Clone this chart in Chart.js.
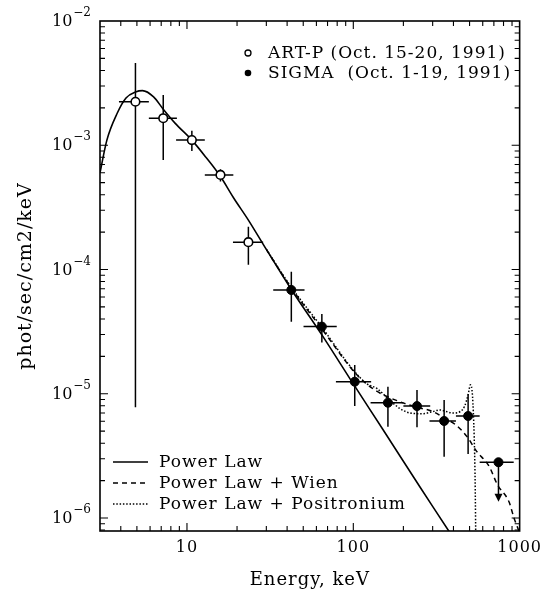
<!DOCTYPE html>
<html><head><meta charset="utf-8">
<script src="https://cdn.jsdelivr.net/npm/chart.js@4"></script>
<style>html,body{margin:0;padding:0;background:#fff}</style>
</head><body>
<canvas id="c" width="547" height="594"></canvas>
<script>
// ---------- DATA ----------
const xTickValues = [10, 100, 1000];
const xTickLabels = ['10', '100', '1000'];
const yTickValues = [1e-6, 1e-5, 1e-4, 1e-3, 1e-2];

// ART-P (open circles)
const artE   = [4.9, 7.2, 10.7, 15.9, 23.4];
const artF   = [2.24e-3, 1.65e-3, 1.10e-3, 5.77e-4, 1.66e-4];
const artElo = [3.9, 5.9, 8.6, 12.8, 18.9];
const artEhi = [5.9, 8.7, 12.8, 19.0, 28.7];
const artFlo = [7.8e-6, 7.6e-4, 9.0e-4, 5.1e-4, 1.09e-4];
const artFhi = [4.6e-3, 2.54e-3, 1.31e-3, 6.4e-4, 2.21e-4];

// SIGMA (filled circles)
const sigE   = [42.4, 64.7, 102, 161.5, 241.5, 351.6, 490];
const sigF   = [6.84e-5, 3.47e-5, 1.25e-5, 8.47e-6, 7.96e-6, 6.04e-6, 6.62e-6];
const sigElo = [33, 50.2, 78.6, 127, 200, 287, 414];
const sigEhi = [50.9, 79.5, 128, 200, 290, 414, 575];
const sigFlo = [3.8e-5, 2.58e-5, 7.97e-6, 5.43e-6, 5.37e-6, 3.11e-6, 3.27e-6];
const sigFhi = [9.6e-5, 4.38e-5, 1.70e-5, 1.14e-5, 1.07e-5, 8.9e-6, 9.9e-6];

// SIGMA upper limit
const ulE = [746];
const ulF = [2.81e-6];
const ulElo = [575];
const ulEhi = [921];
const ulTip = [1.35e-6];

// Model curves
const plE = [3, 3.3, 3.8, 4.3, 4.9, 5.4, 6.3, 7.2, 8.5, 10.7, 13, 15.9, 19, 23.4, 30, 42.4, 65, 100, 150, 250, 374, 420];
const plF = [6.0e-4, 1.1e-3, 1.8e-3, 2.4e-3, 2.68e-3, 2.75e-3, 2.45e-3, 1.95e-3, 1.5e-3, 1.1e-3, 8.0e-4, 5.6e-4, 3.8e-4, 2.5e-4, 1.45e-4, 6.9e-5, 2.95e-5, 1.2e-5, 5.2e-6, 1.8e-6, 7.9e-7, 6.2e-7];

const wienE = [30, 42.4, 65, 105, 135, 183, 241, 300, 351, 414, 490, 546, 656, 736, 863, 925, 1000];
const wienF = [1.45e-4, 7.1e-5, 3.3e-5, 1.42e-5, 1.07e-5, 8.8e-6, 7.8e-6, 7.2e-6, 6.4e-6, 5.6e-6, 4.4e-6, 3.5e-6, 2.6e-6, 1.85e-6, 1.35e-6, 1.0e-6, 7.6e-7];

const posE = [30, 42.4, 65, 100, 121, 139, 165, 191, 219, 260, 302, 330, 397, 440, 466, 490, 506, 521, 533, 540, 546];
const posF = [1.45e-4, 7.2e-5, 3.4e-5, 1.55e-5, 1.2e-5, 1.1e-5, 8.9e-6, 7.6e-6, 7.0e-6, 6.9e-6, 7.2e-6, 7.4e-6, 7.0e-6, 7.2e-6, 7.9e-6, 9.8e-6, 1.18e-5, 9.5e-6, 4.5e-6, 2.0e-6, 5.0e-7];

const legendTop = ['ART-P (Oct. 15-20, 1991)', 'SIGMA  (Oct. 1-19, 1991)'];
const legendBottom = ['Power Law', 'Power Law + Wien', 'Power Law + Positronium'];
const minorMultipliers = [1, 2, 3, 4, 5, 6, 7, 8, 9];

// ---------- STYLE ----------
const FONT = 'DejaVu Serif';
const pts = (xs, ys) => xs.map((v, i) => ({x: v, y: ys[i]}));

const decor = {
  id: 'decor',
  beforeDraw(chart) { chart.ctx.letterSpacing = '1px'; },
  beforeDatasetsDraw(chart) {
    const {ctx, scales: {x, y}} = chart;
    ctx.save();
    ctx.strokeStyle = '#000';
    ctx.fillStyle = '#000';
    ctx.lineWidth = 1.5;
    const bars = (E, F, elo, ehi, flo, fhi) => {
      for (let i = 0; i < E.length; i++) {
        const px = x.getPixelForValue(E[i]), py = y.getPixelForValue(F[i]);
        ctx.beginPath();
        ctx.moveTo(x.getPixelForValue(elo[i]), py);
        ctx.lineTo(x.getPixelForValue(ehi[i]), py);
        ctx.moveTo(px, y.getPixelForValue(fhi[i]));
        ctx.lineTo(px, y.getPixelForValue(flo[i]));
        ctx.stroke();
      }
    };
    bars(artE, artF, artElo, artEhi, artFlo, artFhi);
    bars(sigE, sigF, sigElo, sigEhi, sigFlo, sigFhi);
    for (let i = 0; i < ulE.length; i++) {
      const px = x.getPixelForValue(ulE[i]), py = y.getPixelForValue(ulF[i]);
      const ty = y.getPixelForValue(ulTip[i]);
      ctx.beginPath();
      ctx.moveTo(x.getPixelForValue(ulElo[i]), py);
      ctx.lineTo(x.getPixelForValue(ulEhi[i]), py);
      ctx.moveTo(px, py);
      ctx.lineTo(px, ty - 6);
      ctx.stroke();
      ctx.beginPath();
      ctx.moveTo(px - 4, ty - 8);
      ctx.lineTo(px + 4, ty - 8);
      ctx.lineTo(px, ty);
      ctx.closePath();
      ctx.fill();
    }
    ctx.restore();
  },
  afterDraw(chart) {
    const {ctx, chartArea: a, scales: {x, y}} = chart;
    ctx.save();
    ctx.strokeStyle = '#000';
    ctx.fillStyle = '#000';
    ctx.lineWidth = 1.6;
    ctx.strokeRect(a.left, a.top, a.right - a.left, a.bottom - a.top);
    ctx.lineWidth = 1.1;
    ctx.beginPath();
    for (let d = 0; d <= 3; d++) {
      for (const m of minorMultipliers) {
        const v = m * Math.pow(10, d);
        if (v <= x.min || v >= x.max) continue;
        const p = x.getPixelForValue(v);
        const L = m === 1 ? 8 : 5;
        ctx.moveTo(p, a.bottom); ctx.lineTo(p, a.bottom - L);
        ctx.moveTo(p, a.top); ctx.lineTo(p, a.top + L);
      }
    }
    for (let d = -7; d <= -2; d++) {
      for (const m of minorMultipliers) {
        const v = m * Math.pow(10, d);
        if (v <= y.min * 1.0001 || v >= y.max * 0.9999) continue;
        const p = y.getPixelForValue(v);
        const L = m === 1 ? 8 : 5;
        ctx.moveTo(a.left, p); ctx.lineTo(a.left + L, p);
        ctx.moveTo(a.right, p); ctx.lineTo(a.right - L, p);
      }
    }
    ctx.stroke();
    // y tick labels with superscript exponents
    ctx.letterSpacing = '0px';
    ctx.textBaseline = 'middle';
    for (const t of y.ticks) {
      const v = t.value;
      const p = y.getPixelForValue(v);
      const ex = Math.round(Math.log10(v));
      const sup = '\u2212' + Math.abs(ex);
      ctx.font = '12px "' + FONT + '"';
      const sw = ctx.measureText(sup).width;
      ctx.textAlign = 'left';
      ctx.fillText(sup, 91 - sw, p - 8);
      ctx.font = '16px "' + FONT + '"';
      ctx.textAlign = 'right';
      ctx.fillText('10', 90 - sw, p + 1);
    }
    // legends
    ctx.font = '17px "' + FONT + '"';
    ctx.textAlign = 'left';
    ctx.textBaseline = 'middle';
    const ty = [53, 73];
    ctx.lineWidth = 1.3;
    ctx.beginPath(); ctx.arc(248, ty[0], 3, 0, Math.PI * 2); ctx.stroke();
    ctx.beginPath(); ctx.arc(248, ty[1], 3.3, 0, Math.PI * 2); ctx.fill();
    ctx.letterSpacing = '1px';
    ctx.fillText(legendTop[0], 268, ty[0] + 1);
    ctx.fillText(legendTop[1], 268, ty[1] + 1);
    const by = [462, 483, 504];
    const dashes = [[], [5, 4], [1.5, 1.8]];
    ctx.lineWidth = 1.5;
    for (let i = 0; i < 3; i++) {
      ctx.setLineDash(dashes[i]);
      ctx.beginPath(); ctx.moveTo(113, by[i]); ctx.lineTo(148, by[i]); ctx.stroke();
      ctx.setLineDash([]);
      ctx.fillText(legendBottom[i], 159, by[i] + 1);
    }
    ctx.restore();
    ctx.letterSpacing = '0px';
  }
};

new Chart(document.getElementById('c'), {
  type: 'scatter',
  data: {
    datasets: [
      {label: legendTop[0], data: pts(artE, artF), pointRadius: 4.3, pointBackgroundColor: '#fff',
       pointBorderColor: '#000', pointBorderWidth: 1.6, showLine: false, order: 1},
      {label: legendTop[1], data: pts(sigE, sigF), pointRadius: 4.5, pointBackgroundColor: '#000',
       pointBorderColor: '#000', pointBorderWidth: 1, showLine: false, order: 1},
      {label: 'SIGMA upper limit', data: pts(ulE, ulF), pointRadius: 4.5, pointBackgroundColor: '#000',
       pointBorderColor: '#000', pointBorderWidth: 1, showLine: false, order: 1},
      {label: legendBottom[0], data: pts(plE, plF), showLine: true, pointRadius: 0, borderColor: '#000',
       borderWidth: 1.6, cubicInterpolationMode: 'monotone', fill: false, order: 2},
      {label: legendBottom[1], data: pts(wienE, wienF), showLine: true, pointRadius: 0, borderColor: '#000',
       borderWidth: 1.5, borderDash: [5, 4], cubicInterpolationMode: 'monotone', fill: false, order: 2},
      {label: legendBottom[2], data: pts(posE, posF), showLine: true, pointRadius: 0, borderColor: '#000',
       borderWidth: 1.5, borderDash: [1.5, 1.8], cubicInterpolationMode: 'monotone', fill: false, order: 2}
    ]
  },
  options: {
    responsive: false,
    animation: false,
    devicePixelRatio: 1,
    layout: {padding: {top: 21, right: 23, left: 0, bottom: 0}},
    plugins: {legend: {display: false}, tooltip: {enabled: false}},
    scales: {
      x: {
        type: 'logarithmic', position: 'bottom', min: 3, max: 1000,
        afterBuildTicks: s => { s.ticks = xTickValues.map(v => ({value: v})); },
        afterFit: s => { s.height = 63; },
        grid: {display: false, drawTicks: false},
        border: {display: false},
        ticks: {font: {family: FONT, size: 16}, color: '#000', padding: 7, maxRotation: 0, autoSkip: false,
                callback: (v, i) => xTickLabels[i]},
        title: {display: true, text: 'Energy, keV', font: {family: FONT, size: 18}, color: '#000',
                padding: {top: 0, bottom: 3}}
      },
      y: {
        type: 'logarithmic', position: 'left', min: 7.86e-7, max: 1e-2,
        afterBuildTicks: s => { s.ticks = yTickValues.map(v => ({value: v})); },
        afterFit: s => { s.width = 100; },
        grid: {display: false, drawTicks: false},
        border: {display: false},
        ticks: {display: false},
        title: {display: true, text: 'phot/sec/cm2/keV', font: {family: FONT, size: 19}, color: '#000',
                padding: {top: 15, bottom: 0}}
      }
    }
  },
  plugins: [decor]
});
</script>
</body></html>
